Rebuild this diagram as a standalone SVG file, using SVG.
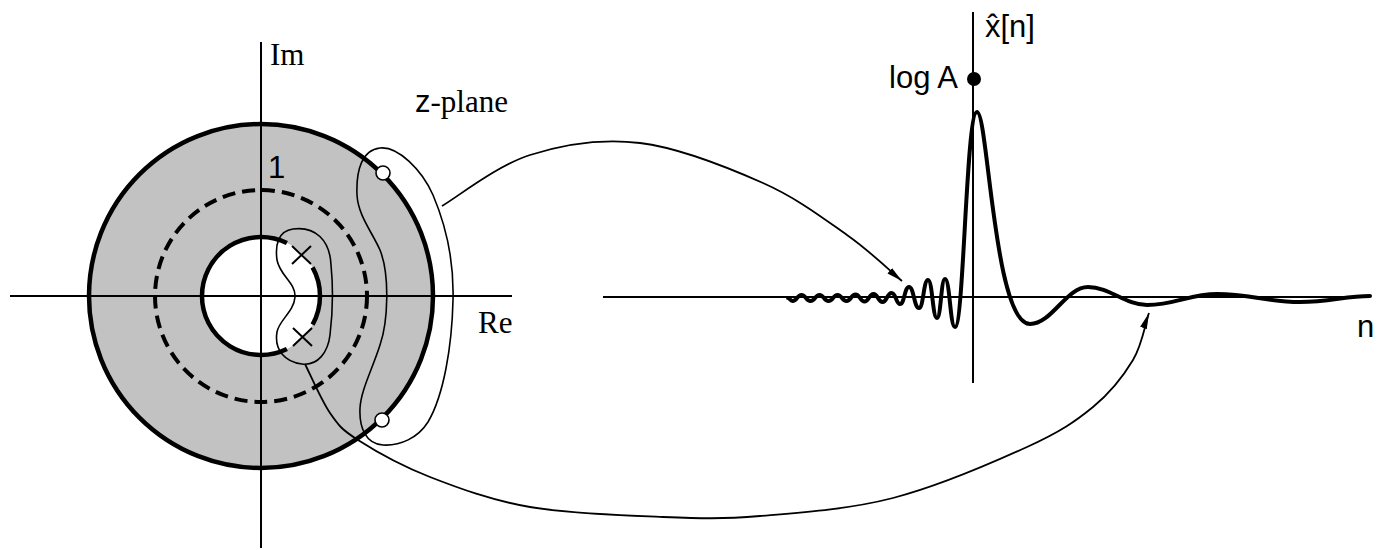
<svg xmlns="http://www.w3.org/2000/svg" width="1380" height="550" viewBox="0 0 1380 550">
  <style>
    .axis { stroke: #000; stroke-width: 2; fill: none; }
    .thick { stroke: #000; stroke-width: 4.5; fill: none; }
    .thin { stroke: #000; stroke-width: 1.6; fill: none; }
    .conn { stroke: #000; stroke-width: 1.8; fill: none; }
    .wave { stroke: #000; stroke-width: 4; fill: none; stroke-linejoin: round; stroke-linecap: round; }
    .serif { font-family: "Liberation Serif", "Times New Roman", serif; font-size: 31px; fill: #000; }
    .sans { font-family: "Liberation Sans", Arial, sans-serif; font-size: 31px; fill: #000; }
  </style>
  <defs>
    <marker id="arrow" viewBox="0 0 16 8" refX="16" refY="4" markerWidth="16" markerHeight="8" markerUnits="userSpaceOnUse" orient="auto">
      <path d="M0,0.5 L16,4 L0,7.5 z" fill="#000"/>
    </marker>
  </defs>
  <rect width="1380" height="550" fill="#fff"/>

  <g id="z-plane">
    <path d="M 89 296 a 172 172 0 1 0 344 0 a 172 172 0 1 0 -344 0 Z M 202 296 a 59 59 0 1 0 118 0 a 59 59 0 1 0 -118 0 Z" fill="#c2c2c2" fill-rule="evenodd"/>
    <line class="axis" x1="10" y1="296" x2="512" y2="296"/>
    <line class="axis" x1="261" y1="42" x2="261" y2="548"/>
    <circle cx="261" cy="296" r="106" fill="none" stroke="#000" stroke-width="4" stroke-dasharray="13 7"/>
    <circle class="thick" cx="261" cy="296" r="172"/>
    <path class="thick" d="M 286.9 243 A 59 59 0 1 0 286.9 349"/>
    <path class="thick" d="M 312.6 267.4 A 59 59 0 0 1 312.6 324.6"/>
    <path class="thin" d="M 293 229 C 315 226, 330 240, 331 265 C 333 285, 333 310, 330 335 C 328 352, 318 366, 302 364 C 285 362, 274 350, 277 332 C 279 320, 294 312, 295 297 C 296 283, 280 276, 277 260 C 275 245, 278 231, 293 229 Z"/>
    <path class="thin" d="M 380 148 C 398 146, 422 170, 433 195 C 447 228, 454 265, 453 300 C 452 345, 444 395, 428 422 C 418 438, 400 446, 383 445 C 366 444, 359 428, 360 408 C 361 390, 372 370, 380 345 C 388 322, 390 275, 380 250 C 372 232, 358 215, 357 195 C 356 170, 362 150, 380 148 Z"/>
    <path stroke="#000" stroke-width="2" d="M 292 246 L 311 264 M 311 246 L 292 264 M 293 328 L 312 346 M 312 328 L 293 346"/>
    <circle cx="383" cy="173" r="7" fill="#fff" stroke="#000" stroke-width="1.6"/>
    <circle cx="382" cy="420" r="7" fill="#fff" stroke="#000" stroke-width="1.6"/>
    <text class="serif" x="270" y="65">Im</text>
    <text class="serif" x="415" y="112" font-size="32"><tspan font-family="Liberation Sans, Arial, sans-serif">z</tspan>-plane</text>
    <text class="sans" x="268" y="178" font-size="28">1</text>
    <text class="serif" x="478" y="333">Re</text>
  </g>

  <g id="signal">
    <line class="axis" x1="603" y1="297" x2="1370" y2="297"/>
    <line class="axis" x1="973" y1="12" x2="973" y2="383" stroke-width="2.4"/>
    <circle cx="974" cy="79" r="7" fill="#000"/>
    <path class="wave" d="M 788 298 C 790 298, 790 301, 792.5 301 C 797 301, 797 295, 801.5 295 C 806 295, 806 301, 810.5 301 C 815 301, 815 295, 819.5 295 C 824 295, 824 301, 828.5 301 C 833 301, 833 295, 837.5 295 C 842 295, 842 301, 846.5 301 C 851 301, 851 294.5, 855.5 294.5 C 860 294.5, 860 301.5, 864.5 301.5 C 869 301.5, 869 294, 873.5 294 C 878 294, 878 302, 882.5 302 C 887 302, 887 293, 891.5 293 C 896 293, 896 304, 900 304 C 904.5 304, 904.5 287, 909 287 C 914 287, 914 308, 919 308 C 923.5 308, 923.5 280, 928 280 C 932.5 280, 932.5 318, 937 318 C 941 318, 941 279, 945 279 C 950 279, 950 327, 955 327 C 964 327, 966 112, 977 112 C 988 112, 994 324, 1030 324 C 1052 324, 1066 287, 1088 287 C 1110 287, 1125 305, 1147 305 C 1175 305, 1190 294, 1217 294 C 1250 294, 1267 302, 1300 302 C 1330 302, 1345 296, 1370 296"/>
    <text class="sans" x="958" y="88" text-anchor="end">log A</text>
    <text class="sans" x="985" y="37">x̂[n]</text>
    <text class="sans" x="1357" y="337" font-size="32">n</text>
  </g>

  <g id="connectors">
    <path class="conn" marker-end="url(#arrow)" d="M 442 206 C 456.7 197.5, 497 165.5, 530 155 C 563 144.5, 601.2 138.3, 640 143 C 678.8 147.7, 728.5 167.7, 763 183 C 797.5 198.3, 823.8 218.7, 847 235 C 870.2 251.3, 892.8 273.3, 902 281"/>
    <path class="conn" marker-end="url(#arrow)" d="M 305 364 C 309.2 372.2, 321.2 400.3, 330 413 C 338.8 425.7, 341.3 429.3, 358 440 C 374.7 450.7, 401.3 465.8, 430 477 C 458.7 488.2, 491.2 500.3, 530 507 C 568.8 513.7, 624.7 515.5, 663 517 C 701.3 518.5, 721.7 519.2, 760 516 C 798.3 512.8, 848.5 509.5, 893 498 C 937.5 486.5, 993.7 462.2, 1027 447 C 1060.3 431.8, 1075.3 421.5, 1093 407 C 1110.7 392.5, 1123.8 375.3, 1133 360 C 1142.2 344.7, 1145.5 322.5, 1149 313"/>
  </g>
</svg>
